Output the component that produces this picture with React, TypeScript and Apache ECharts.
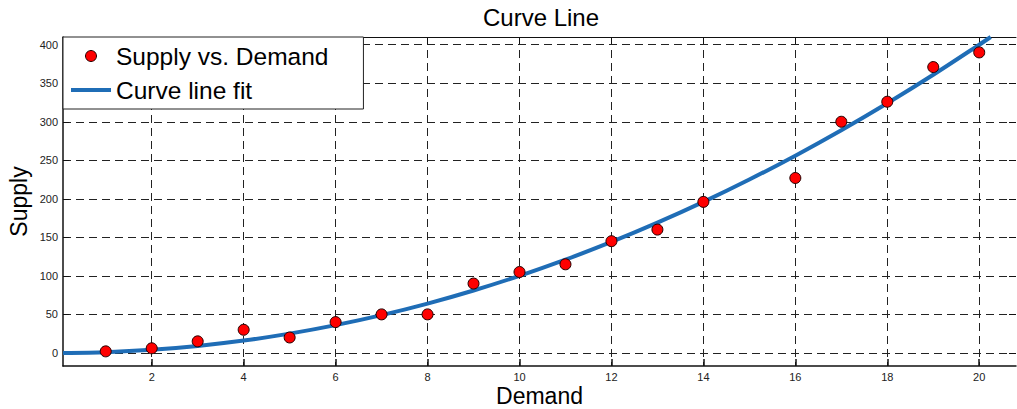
import React, { useEffect, useRef } from 'react';
import * as echarts from 'echarts';

const chartTitle = 'Curve Line';
const xName = 'Demand';
const yName = 'Supply';
const scatterName = 'Supply vs. Demand';
const fitName = 'Curve line fit';

const demand = [1, 2, 3, 4, 5, 6, 7, 8, 9, 10, 11, 12, 13, 14, 16, 17, 18, 19, 20];
const supply = [2, 6, 15, 30, 20, 40, 50, 50, 90, 105, 115, 145, 160, 196, 227, 300, 326, 371, 390];

const fitDemand = [0.07, 1, 2, 3, 4, 5, 6, 7, 8, 9, 10, 11, 12, 13, 14, 15, 16, 17, 18, 19, 20, 20.25];
const fitSupply = [0, 1, 4, 9, 16, 25, 36, 49, 64, 81, 100, 121, 144, 169, 196, 225, 256, 289, 324, 361, 400, 410];

const xTicks = [2, 4, 6, 8, 10, 12, 14, 16, 18, 20];
const yTicks = [0, 50, 100, 150, 200, 250, 300, 350, 400];

const X_MIN = 0.07;
const X_MAX = 20.8;
const Y_MIN = -17;
const Y_MAX = 410;

const FONT = '"Liberation Sans", Arial, Helvetica, sans-serif';
const BLUE = '#1f6db6';

export default function App() {
  const ref = useRef<HTMLDivElement>(null);

  useEffect(() => {
    if (!ref.current) return;
    const chart = echarts.init(ref.current, null, { renderer: 'svg' });

    const gridLine = { show: true, lineStyle: { color: '#222', width: 1, type: [8, 5] as any } };

    const option: any = {
      animation: false,
      backgroundColor: '#fff',
      textStyle: { fontFamily: FONT },
      grid: { left: 63, right: 1, top: 37, bottom: 43, containLabel: false, outerBoundsMode: 'none' },
      graphic: [
        {
          type: 'text',
          x: 541,
          y: 5,
          style: {
            text: chartTitle,
            align: 'center',
            verticalAlign: 'top',
            fontSize: 24,
            fontFamily: FONT,
            fill: '#000',
          },
        },
      ],
      legend: {
        orient: 'vertical',
        left: 63,
        top: 37,
        padding: [6, 35, 6, 8],
        itemGap: 8,
        itemWidth: 40,
        itemHeight: 11,
        backgroundColor: '#fff',
        borderColor: '#222',
        borderWidth: 1,
        borderRadius: 0,
        z: 10,
        textStyle: { fontSize: 24.5, lineHeight: 26, color: '#000', fontFamily: FONT },
        data: [
          {
            name: scatterName,
            icon: 'circle',
            itemStyle: { color: '#ff0000', borderColor: '#200000', borderWidth: 1 },
          },
          {
            name: fitName,
            icon: 'path://M0,0 L40,0 L40,4 L0,4 Z',
            itemStyle: { color: BLUE, borderWidth: 0 },
          },
        ],
      },
      xAxis: [
        {
          type: 'value',
          min: X_MIN,
          max: X_MAX,
          name: xName,
          nameLocation: 'middle',
          nameGap: 21,
          nameMoveOverlap: false,
          nameTextStyle: { fontSize: 23, lineHeight: 17, color: '#000', fontFamily: FONT },
          axisLine: { show: true, onZero: false, lineStyle: { color: '#111', width: 1.5 } },
          axisTick: { show: true, inside: true, length: 7, customValues: xTicks, lineStyle: { color: '#111', width: 1.5 } },
          axisLabel: { show: true, customValues: xTicks, margin: 5, fontSize: 11, lineHeight: 11, color: '#222', fontFamily: FONT },
          splitLine: gridLine,
        },
        {
          type: 'value',
          position: 'top',
          min: X_MIN,
          max: X_MAX,
          axisLine: { show: true, onZero: false, lineStyle: { color: '#111', width: 1 } },
          axisTick: { show: true, inside: true, length: 7, customValues: xTicks, lineStyle: { color: '#111', width: 1 } },
          axisLabel: { show: false },
          splitLine: { show: false },
        },
      ],
      yAxis: [
        {
          type: 'value',
          min: Y_MIN,
          max: Y_MAX,
          name: yName,
          nameLocation: 'middle',
          nameGap: 33,
          nameMoveOverlap: false,
          nameTextStyle: { fontSize: 23, color: '#000', fontFamily: FONT },
          axisLine: { show: true, onZero: false, lineStyle: { color: '#111', width: 1.5 } },
          axisTick: { show: true, inside: true, length: 6, customValues: yTicks, lineStyle: { color: '#111', width: 1 } },
          axisLabel: { show: true, customValues: yTicks, margin: 5, fontSize: 11, color: '#222', fontFamily: FONT },
          splitLine: gridLine,
        },
        {
          type: 'value',
          position: 'right',
          min: Y_MIN,
          max: Y_MAX,
          axisLine: { show: false },
          axisTick: { show: true, inside: true, length: 7, customValues: yTicks, lineStyle: { color: '#111', width: 1 } },
          axisLabel: { show: false },
          splitLine: { show: false },
        },
      ],
      series: [
        {
          name: fitName,
          type: 'line',
          xAxisIndex: 0,
          yAxisIndex: 0,
          data: fitDemand.map((x, i) => [x, fitSupply[i]]),
          smooth: 0.3,
          symbol: 'none',
          showSymbol: false,
          lineStyle: { color: BLUE, width: 4 },
          itemStyle: { color: BLUE },
          z: 2,
        },
        {
          name: scatterName,
          type: 'scatter',
          xAxisIndex: 0,
          yAxisIndex: 0,
          data: demand.map((x, i) => [x, supply[i]]),
          symbol: 'circle',
          symbolSize: 11,
          itemStyle: { color: '#ff0000', borderColor: '#200000', borderWidth: 1, opacity: 1 },
          z: 3,
        },
      ],
    };

    chart.setOption(option);
    return () => chart.dispose();
  }, []);

  return (
    <div
      ref={ref}
      style={{ position: 'fixed', left: 0, top: 0, width: 1017, height: 409, background: '#fff' }}
    />
  );
}
